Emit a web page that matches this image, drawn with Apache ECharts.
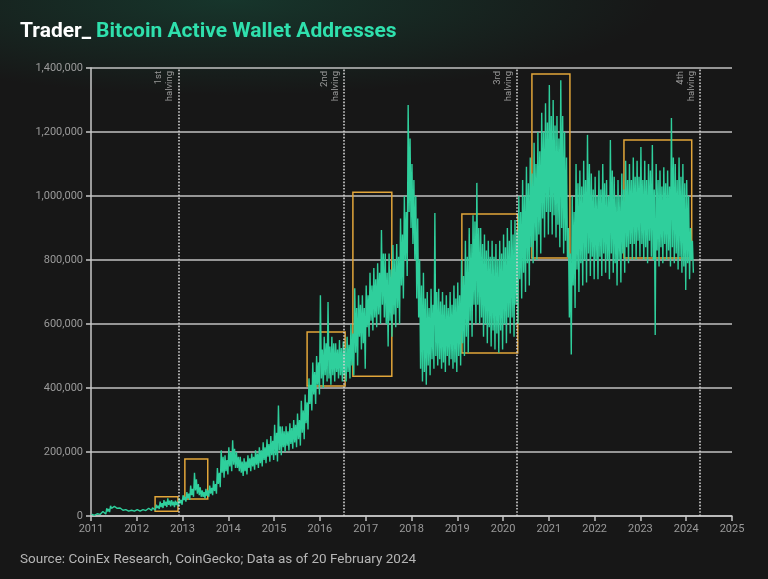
<!DOCTYPE html>
<html lang="en">
<head>
  <meta charset="UTF-8">
  <title>Bitcoin Active Wallet Addresses</title>
  <style>
    html, body { margin: 0; padding: 0; }
    body {
      width: 768px; height: 579px; overflow: hidden;
      background: radial-gradient(ellipse 430px 95px at 230px 0px, rgba(22, 90, 68, 0.45), rgba(22, 90, 68, 0) 100%), #171717;
    }
    #main { width: 768px; height: 579px; }
  </style>
</head>
<body>
  <div id="main"></div>
  <script src="https://cdn.jsdelivr.net/npm/echarts@6/dist/echarts.min.js"></script>
  <script>
    // daily active addresses read per month (thousands), Jan 2011 .. Feb 2024
    var startYear = 2011;
    // extremes of each month
    var lowK = [
      2, 3, 4, 6, 12, 22, 24, 20, 17, 15, 14, 14,
      15, 15, 16, 17, 18, 22, 25, 28, 30, 28, 30, 35,
      45, 50, 60, 70, 60, 55, 60, 65, 70, 90, 120, 130,
      140, 150, 140, 125, 130, 140, 145, 150, 155, 165, 170, 175,
      170, 190, 200, 205, 210, 215, 220, 240, 270, 330, 350, 380,
      400, 420, 410, 420, 430, 420, 420, 430, 440, 470, 520, 460,
      560, 580, 590, 600, 620, 530, 560, 590, 600, 680, 750, 900,
      800, 620, 420, 410, 440, 460, 470, 460, 450, 470, 460, 450,
      470, 500, 510, 560, 600, 600, 560, 540, 530, 520, 510, 520,
      540, 570, 560, 600, 680, 700, 720, 790, 800, 820, 870, 880,
      880, 870, 840, 820, 809, 505, 650, 700, 720, 730, 750, 740,
      740, 750, 760, 740, 760, 720, 730, 760, 790, 800, 800, 810,
      800, 790, 810, 566, 780, 790, 800, 780, 790, 770, 760, 706,
      740, 760
    ];
    var highK = [
      6, 8, 10, 14, 24, 32, 30, 27, 23, 20, 19, 19,
      20, 21, 22, 24, 26, 35, 45, 50, 55, 50, 48, 55,
      65, 75, 95, 135, 100, 80, 85, 95, 110, 150, 205, 190,
      215, 237, 200, 185, 180, 190, 195, 205, 215, 230, 240, 250,
      285, 345, 280, 280, 290, 300, 320, 360, 380, 430, 480, 500,
      690, 560, 669, 560, 540, 550, 545, 560, 600, 712, 690, 690,
      720, 760, 775, 790, 894, 820, 820, 847, 850, 930, 1000, 1284,
      1100, 1000, 800, 760, 700, 710, 947, 710, 700, 690, 700, 720,
      730, 800, 860, 900, 940, 1041, 900, 880, 860, 860, 850, 860,
      880, 900, 925, 925, 1000, 1050, 1091, 1120, 1166, 1200, 1260, 1290,
      1347, 1300, 1250, 1362, 1200, 900, 1000, 1100, 1080, 1110, 1191, 1070,
      1060, 1080, 1100, 1050, 1175, 1060, 1050, 1070, 1110, 1100, 1120, 1110,
      1153, 1110, 1100, 1159, 1100, 1080, 1090, 1080, 1244, 1100, 1120, 1100,
      1050, 900
    ];
    // typical (dense) range of each month
    var coreLowK = [
      3, 4, 5, 8, 14, 24, 25, 21, 18, 16, 15, 15,
      16, 16, 17, 18, 20, 25, 28, 32, 35, 33, 34, 40,
      50, 55, 65, 80, 65, 60, 63, 70, 78, 100, 135, 140,
      155, 160, 150, 135, 140, 150, 155, 160, 165, 175, 185, 190,
      190, 205, 215, 220, 225, 230, 240, 260, 290, 350, 380, 410,
      430, 440, 430, 440, 450, 440, 440, 450, 470, 510, 560, 540,
      590, 610, 620, 630, 660, 600, 610, 630, 650, 720, 800, 950,
      850, 680, 460, 450, 470, 490, 500, 490, 480, 500, 490, 480,
      500, 540, 560, 610, 660, 660, 620, 600, 590, 580, 570, 580,
      600, 620, 620, 660, 740, 760, 790, 840, 860, 880, 930, 950,
      950, 940, 910, 900, 860, 620, 720, 770, 790, 800, 820, 810,
      800, 810, 820, 800, 820, 790, 800, 820, 840, 850, 850, 860,
      850, 840, 860, 800, 830, 840, 850, 830, 840, 820, 810, 780,
      790, 800
    ];
    var coreHighK = [
      5, 7, 9, 12, 22, 30, 28, 25, 21, 19, 18, 18,
      19, 20, 21, 23, 25, 32, 40, 45, 48, 45, 44, 50,
      60, 70, 85, 115, 90, 75, 80, 88, 100, 135, 185, 175,
      200, 210, 185, 170, 170, 180, 185, 195, 205, 215, 225, 235,
      260, 280, 265, 265, 275, 285, 300, 330, 355, 410, 450, 480,
      520, 540, 530, 540, 520, 525, 525, 535, 570, 650, 660, 650,
      690, 720, 740, 760, 820, 760, 770, 800, 810, 880, 950, 1180,
      1050, 930, 720, 680, 650, 660, 700, 670, 660, 650, 660, 680,
      690, 750, 810, 850, 920, 900, 850, 830, 810, 810, 800, 820,
      840, 860, 880, 890, 950, 1000, 1040, 1070, 1100, 1140, 1200, 1230,
      1250, 1220, 1180, 1250, 1120, 820, 950, 1040, 1030, 1050, 1100, 1020,
      1000, 1020, 1040, 1000, 1080, 1000, 1000, 1020, 1050, 1050, 1060, 1060,
      1050, 1050, 1080, 1020, 1050, 1030, 1040, 1030, 1120, 1050, 1060, 1040,
      1000, 860
    ];

    // halvings (decimal year)
    var halvingNames = ['1st', '2nd', '3rd', '4th'];
    var halvingDates = [2012.91, 2016.52, 2020.30, 2024.30];

    // highlighted ranges: [from year, to year, low, high]
    var boxes = [
      [2012.40, 2012.90, 15000, 60000],
      [2013.05, 2013.55, 53000, 178000],
      [2015.72, 2016.55, 406000, 575000],
      [2016.72, 2017.57, 437000, 1012000],
      [2019.10, 2020.32, 509000, 944000],
      [2020.63, 2021.46, 806000, 1381000],
      [2022.64, 2024.12, 806000, 1175000]
    ];

    var lineData = [];
    for (var m = 0; m < lowK.length; m++) {
      lineData.push([startYear + (m + 0.125) / 12, highK[m] * 1000]);
      lineData.push([startYear + (m + 0.375) / 12, coreLowK[m] * 1000]);
      lineData.push([startYear + (m + 0.625) / 12, coreHighK[m] * 1000]);
      lineData.push([startYear + (m + 0.875) / 12, lowK[m] * 1000]);
    }

    var myChart = echarts.init(document.getElementById('main'));
    var option = {
      backgroundColor: 'transparent',
      animation: false,
      title: [{
        left: 15, top: 16,
        text: '{a|Trader_} {b|Bitcoin Active Wallet Addresses}',
        textStyle: {
          rich: {
            a: { color: '#ffffff', fontSize: 21, fontWeight: 'bold', fontFamily: 'Roboto' },
            b: { color: '#2fe0ad', fontSize: 21, fontWeight: 'bold', fontFamily: 'Roboto' }
          }
        }
      }, {
        left: 15, top: 548,
        text: 'Source: CoinEx Research, CoinGecko; Data as of 20 February 2024',
        textStyle: { color: '#b5b5b5', fontSize: 13.5, fontWeight: 'normal', fontFamily: 'Roboto' }
      }],
      grid: { left: 91, right: 36, top: 68, bottom: 63 },
      xAxis: {
        type: 'value',
        min: 2011, max: 2025, interval: 1,
        axisLine: { show: true, lineStyle: { color: '#c8c8c8', width: 1.5 } },
        axisTick: { show: true, length: 5, lineStyle: { color: '#c8c8c8', width: 1.5 } },
        axisLabel: { color: '#9a9a9a', fontSize: 11, margin: 8, fontFamily: 'Roboto',
          formatter: function (v) { return String(v); } },
        splitLine: { show: false }
      },
      yAxis: {
        type: 'value',
        min: 0, max: 1400000, interval: 200000,
        axisLine: { show: true, lineStyle: { color: '#c8c8c8', width: 1.5 } },
        axisTick: { show: true, length: 5, lineStyle: { color: '#c8c8c8', width: 1.5 } },
        axisLabel: { color: '#9a9a9a', fontSize: 11, margin: 8, fontFamily: 'Roboto',
          formatter: function (v) { return v.toLocaleString('en-US'); } },
        splitLine: { show: true, lineStyle: { color: '#c2c2c2', width: 1.6 } }
      },
      series: [{
        name: 'Active addresses',
        type: 'line',
        data: lineData,
        showSymbol: false,
        lineStyle: { color: '#2fcf9c', width: 1.4 },
        z: 2
      }, {
        name: 'halvings',
        type: 'line',
        data: [],
        z: 4,
        markLine: {
          silent: true,
          symbol: 'none',
          lineStyle: { color: '#d0d0d0', type: 'dotted', width: 1.6 },
          label: {
            show: true,
            position: 'insideEndTop',
            distance: 3,
            color: '#9a9a9a',
            fontSize: 9.5,
            lineHeight: 11,
            fontFamily: 'Roboto',
            formatter: function (p) { return p.name + '\nhalving'; }
          },
          data: halvingDates.map(function (d, i) { return { name: halvingNames[i], xAxis: d }; })
        }
      }, {
        name: 'boxes',
        type: 'line',
        data: [],
        z: 5,
        markArea: {
          silent: true,
          itemStyle: { color: 'rgba(0,0,0,0)', borderColor: '#e2a63a', borderWidth: 1.5 },
          data: boxes.map(function (b) {
            return [{ xAxis: b[0], yAxis: b[2] }, { xAxis: b[1], yAxis: b[3] }];
          })
        }
      }]
    };
    myChart.setOption(option);
  </script>
</body>
</html>
